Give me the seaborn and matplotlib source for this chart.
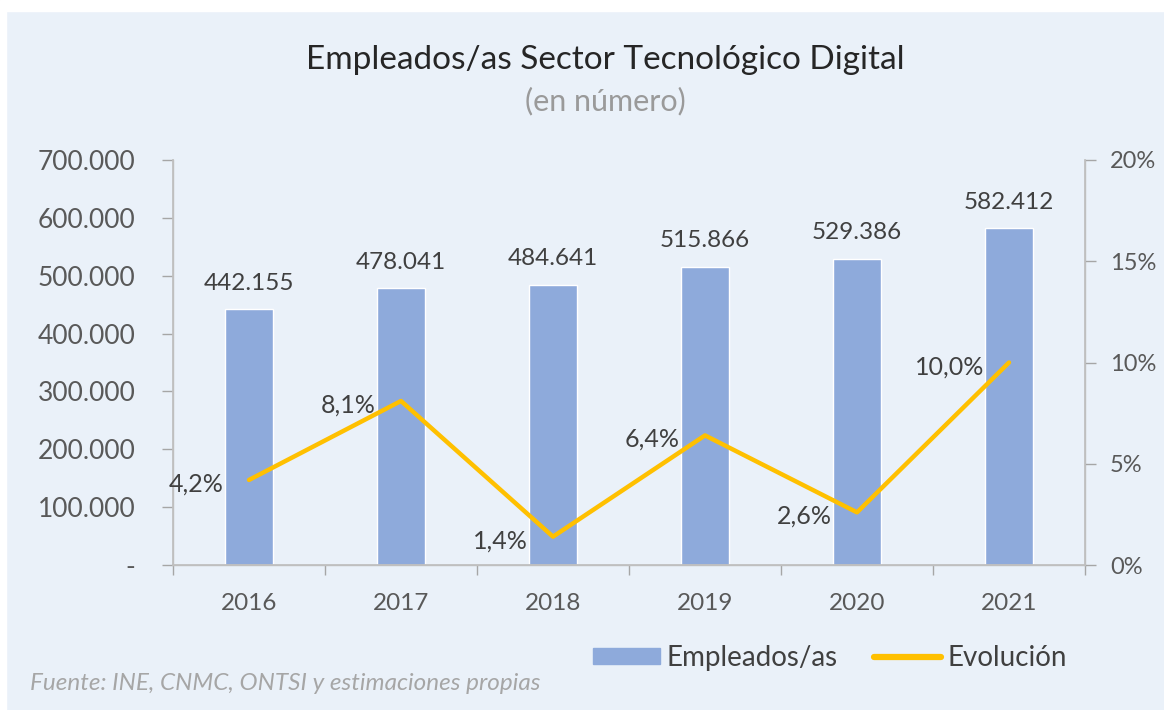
import matplotlib
matplotlib.use("Agg")
import matplotlib.pyplot as plt
import seaborn as sns
import pandas as pd
from matplotlib.patches import Rectangle, Patch
from matplotlib.lines import Line2D
from matplotlib.ticker import FixedLocator

years = ["2016", "2017", "2018", "2019", "2020", "2021"]
empleados = [442155, 478041, 484641, 515866, 529386, 582412]
evolucion = [4.2, 8.1, 1.4, 6.4, 2.6, 10.0]
bar_labels = ["442.155", "478.041", "484.641", "515.866", "529.386", "582.412"]
pct_labels = ["4,2%", "8,1%", "1,4%", "6,4%", "2,6%", "10,0%"]
left_ticks = [0, 100000, 200000, 300000, 400000, 500000, 600000, 700000]
left_tick_labels = ["-", "100.000", "200.000", "300.000", "400.000", "500.000", "600.000", "700.000"]
right_ticks = [0, 5, 10, 15, 20]
right_tick_labels = ["0%", "5%", "10%", "15%", "20%"]

BG = "#eaf1f9"
BAR = "#8eaadb"
LINE = "#ffc000"
TXT = "#404040"
TICK = "#595959"

sns.set_theme(style="white")
plt.rcParams["font.family"] = ["Lato", "DejaVu Sans"]

df = pd.DataFrame({"year": years, "empleados": empleados, "evol": evolucion})

fig = plt.figure(figsize=(11.64, 7.10), dpi=100, facecolor=BG)
W, H = 1164, 710
fig.patches.append(Rectangle((0, 1 - 11 / H), 1, 11 / H, transform=fig.transFigure, color="white", zorder=0))
fig.patches.append(Rectangle((0, 0), 6 / W, 1, transform=fig.transFigure, color="white", zorder=0))

ax = fig.add_axes([173 / W, 1 - 565 / H, (1085 - 173) / W, (565 - 160) / H])
ax.set_facecolor(BG)
sns.barplot(data=df, x="year", y="empleados", ax=ax, color=BAR, width=0.31, saturation=1, zorder=2)
ax.set_ylim(0, 700000)
ax.set_xlim(-0.5, 5.5)
ax.set_xlabel("")
ax.set_ylabel("")
ax.yaxis.set_major_locator(FixedLocator(left_ticks))
ax.set_yticklabels(left_tick_labels)
ax.tick_params(axis="y", which="major", length=8, color="#a6a6a6", width=1, labelsize=19, labelcolor=TICK, pad=19, left=True)
ax.tick_params(axis="x", which="major", length=0, labelsize=17.5, labelcolor=TICK, pad=20)
ax.xaxis.set_minor_locator(FixedLocator([-0.5, 0.5, 1.5, 2.5, 3.5, 4.5, 5.5]))
ax.tick_params(axis="x", which="minor", length=7, color="#a6a6a6", width=1, bottom=True)
ax.spines["top"].set_visible(False)
for s in ["left", "right", "bottom"]:
    ax.spines[s].set_color("#bfbfbf")
    ax.spines[s].set_linewidth(1)

for i, (v, lab) in enumerate(zip(empleados, bar_labels)):
    ax.annotate(lab, (i, v), xytext=(0, 11), textcoords="offset points", ha="center", va="bottom",
                fontsize=17.5, color=TXT)

ax2 = ax.twinx()
sns.pointplot(x=years, y=evolucion, ax=ax2, color=LINE, markers="", linewidth=3.2, zorder=3)
ax2.set_ylim(0, 20)
ax2.set_xlim(-0.5, 5.5)
ax2.yaxis.set_major_locator(FixedLocator(right_ticks))
ax2.set_yticklabels(right_tick_labels)
ax2.tick_params(axis="y", length=8, color="#a6a6a6", width=1, labelsize=17, labelcolor=TICK, pad=10, right=True)
ax2.set_ylabel("")
ax2.spines["top"].set_visible(False)
for s in ["left", "right", "bottom"]:
    ax2.spines[s].set_color("#bfbfbf")
for i, (v, lab) in enumerate(zip(evolucion, pct_labels)):
    ax2.annotate(lab, (i, v), xytext=(-18, -3), textcoords="offset points", ha="right", va="center",
                 fontsize=18, color=TXT)

fig.text(605 / W, 1 - 60 / H, "Empleados/as Sector Tecnológico Digital", ha="center", va="center",
         fontsize=24, color="#262626")
fig.text(605 / W, 1 - 101 / H, "(en número)", ha="center", va="center", fontsize=22, color="#9a9a9a")

handles = [Patch(facecolor=BAR, edgecolor=BAR), Line2D([0], [0], color=LINE, lw=4.5, solid_capstyle="round")]
fig.legend(handles, ["Empleados/as", "Evolución"], loc="center", bbox_to_anchor=(830 / W, 1 - 658 / H),
           ncol=2, frameon=False, fontsize=20, handlelength=2.4, handleheight=0.5, handletextpad=0.25,
           columnspacing=1.3, labelcolor=TXT)

fig.text(30 / W, 1 - 683 / H, "Fuente: INE, CNMC, ONTSI y estimaciones propias", ha="left", va="center",
         fontsize=17.5, style="italic", color="#a6a6a6")

fig.savefig("out.png", dpi=100, facecolor=BG)
